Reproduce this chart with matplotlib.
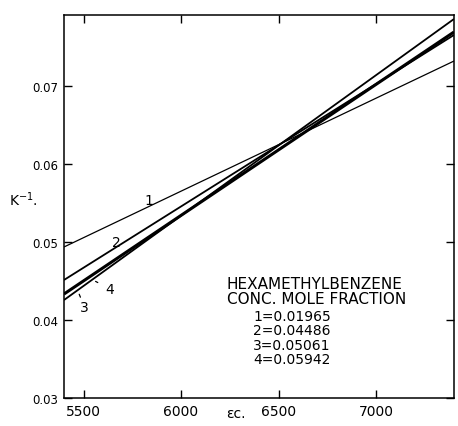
import matplotlib
matplotlib.use("Agg")
import matplotlib.pyplot as plt

# endpoints of the fitted straight lines (x in eps*c, y in kappa^-1)
x_ends = [5400, 7400]
line_ids = ["1", "2", "3", "4"]
y_line1 = [0.04936, 0.07320]
y_line2 = [0.04513, 0.07654]
y_line3 = [0.04256, 0.07859]
y_line4 = [0.04333, 0.07692]
widths = [0.9, 1.3, 1.3, 2.2]

# curve labels: (text x, text y, pointer x, pointer y)
label_pos = {
    "1": (5835, 0.05540, None, None),
    "2": (5668, 0.05000, None, None),
    "3": (5505, 0.04167, 5478, 0.04330),
    "4": (5635, 0.04397, 5562, 0.04495),
}

legend_title = ["HEXAMETHYLBENZENE", "CONC. MOLE FRACTION"]
mole_fractions = ["0.01965", "0.04486", "0.05061", "0.05942"]

xticks = [5500, 6000, 6500, 7000]
yticks = [0.03, 0.04, 0.05, 0.06, 0.07]

fig = plt.figure(figsize=(4.58, 4.27), dpi=100)
ax = fig.add_axes([64 / 458, 1 - 399 / 427, 390 / 458, 383 / 427])

for ys, lw in zip([y_line1, y_line2, y_line3, y_line4], widths):
    ax.plot(x_ends, ys, color="black", linewidth=lw, solid_capstyle="butt")

for lab in line_ids:
    tx, ty, px, py = label_pos[lab]
    if px is None:
        ax.text(tx, ty, lab, fontsize=10, ha="center", va="center")
    else:
        ax.annotate(lab, xy=(px, py), xytext=(tx, ty), fontsize=10,
                    ha="center", va="center",
                    arrowprops=dict(arrowstyle="-", color="black", lw=0.9,
                                    shrinkA=4, shrinkB=0))

ax.set_xlim(5400, 7400)
ax.set_ylim(0.03, 0.0791)
ax.set_xticks(xticks)
ax.set_yticks(yticks)
ax.set_xticklabels([str(t) for t in xticks])
ax.set_yticklabels([f"{t:.2f}" for t in yticks])
ax.tick_params(direction="in", length=6, width=1, top=True, right=True, pad=4)
ax.tick_params(axis="x", labelsize=10)
ax.tick_params(axis="y", labelsize=8.5)
for sp in ax.spines.values():
    sp.set_linewidth(1.1)

# legend block as plain text
ax.text(0.417, 0.299, legend_title[0], transform=ax.transAxes,
        fontsize=11, ha="left", va="center")
ax.text(0.417, 0.259, legend_title[1], transform=ax.transAxes,
        fontsize=11, ha="left", va="center")
for i, (lab, mf) in enumerate(zip(line_ids, mole_fractions)):
    ax.text(0.485, 0.214 - i * 0.0375, f"{lab}={mf}", transform=ax.transAxes,
            fontsize=10, ha="left", va="center")

ax.text(0.441, -0.038, "εc.", transform=ax.transAxes, fontsize=10,
        ha="center", va="center")
ax.text(-0.141, 0.52, "K$^{-1}$.", transform=ax.transAxes, fontsize=10,
        ha="left", va="center")

fig.savefig("out.png", dpi=100)
